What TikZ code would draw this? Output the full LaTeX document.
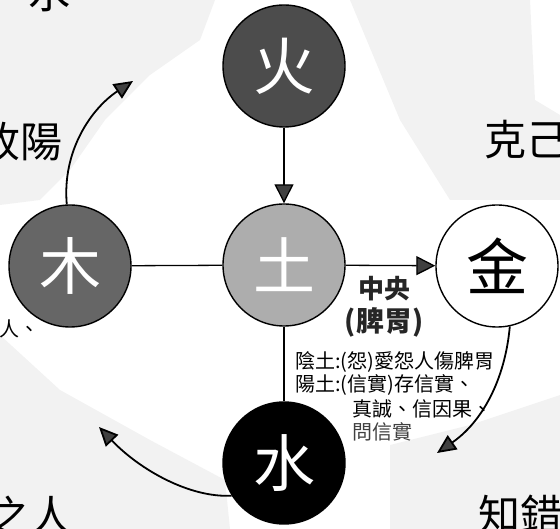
\documentclass[tikz,border=0pt]{standalone}
\usepackage{fontspec}
\newfontfamily\cjk{Noto Sans CJK TC}
\usetikzlibrary{arrows.meta}
\begin{document}
\begin{tikzpicture}[x=1pt,y=-1pt,
  elem/.style={circle,draw=black,line width=1.4pt,minimum size=122pt,inner sep=0pt,
    font=\cjk\fontsize{62}{62}\selectfont},
  link/.style={line width=1.3pt,draw=black},
  tip/.style={-{Triangle[length=19pt,width=19pt,fill=black!75]}},
  curv/.style={line width=1.8pt,draw=black,-{Triangle[length=19pt,width=17pt,fill=black!75]}},
  desc/.style={anchor=west,inner sep=0pt,font=\cjk\fontsize{20}{20}\selectfont},
  brush/.style={anchor=west,inner sep=0pt,font=\cjk\fontsize{42}{42}\selectfont,text=black},
  bg/.style={fill=black!5,draw=none}]
\useasboundingbox (0,0) rectangle (560,529);
% stippled backgrounds
\path[bg] (0,0) -- (215,0) -- (200,40) -- (150,75) -- (105,120) -- (70,170) -- (40,200) -- (0,205) -- cycle;
\path[bg] (350,0) -- (530,0) -- (535,100) -- (560,115) -- (560,200) -- (450,200) -- (400,120) -- cycle;
\path[bg] (0,335) -- (60,390) -- (150,440) -- (225,480) -- (230,529) -- (0,529) -- cycle;
\path[bg] (390,445) -- (470,425) -- (560,395) -- (560,529) -- (390,529) -- cycle;
% background brush words
\node[brush,anchor=south west] (wshui) at (28,12) {水};
\node[brush] (wyang) at (-22,142) {收陽};
\node[brush] (wkeji) at (484,140) {克己};
\node[brush] (wzhi) at (-12,515) {之人};
\node[brush] (wcuo) at (478,514) {知錯};
\node[desc] (wren) at (-1,329) {人、};
% elements
\node[elem,fill=black!70,text=white] (fire) at (284,66) {火};
\node[elem,fill=black!32,text=white] (earth) at (284,265) {土};
\node[elem,fill=black!60,text=white] (wood) at (70,266) {木};
\node[elem,fill=white,text=black] (metal) at (497,266) {金};
\node[elem,fill=black,text=white] (water) at (284,463) {水};
% connectors
\draw[link,tip] (fire) -- (earth);
\draw[link] (wood) -- (earth);
\draw[link,tip] (earth) -- (metal);
\draw[link] (earth) -- (water);
\coordinate (t1) at (133,81);
\coordinate (t2) at (99,427);
\coordinate (t3) at (437,453);
\draw[curv] (wood.93) .. controls (62,150) and (92,108) .. (t1);
\draw[curv] (water.212) .. controls (190,498) and (140,470) .. (t2);
\draw[curv] (metal.-78) .. controls (505,380) and (482,422) .. (t3);
% texts
\node[anchor=center,inner sep=0pt,font=\cjk\bfseries\fontsize{26}{26}\selectfont,text=black!85] (zy) at (384,289) {中央};
\node[anchor=center,inner sep=0pt,font=\cjk\bfseries\fontsize{28}{28}\selectfont,text=black!85] (pw) at (384,322) {(脾胃)};
\node[desc] (l1) at (295,362) {陰土:(怨)愛怨人傷脾胃};
\node[desc] (l2) at (295,385) {陽土:(信實)存信實、};
\node[desc] (l3) at (352,409) {真誠、信因果、};
\node[desc,text=black!75] (l4) at (352,432) {問信實};
\end{tikzpicture}
\end{document}
